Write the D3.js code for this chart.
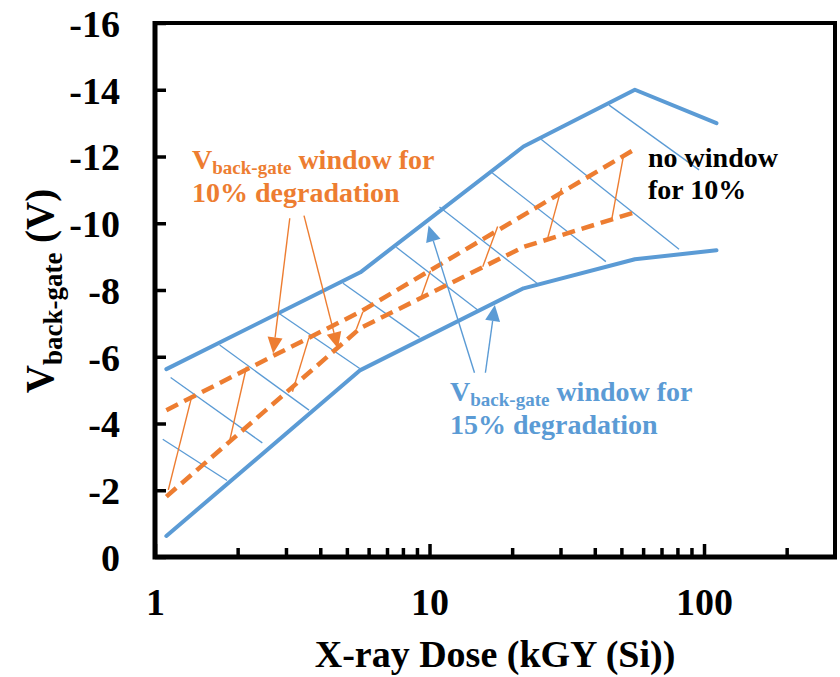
<!DOCTYPE html>
<html>
<head>
<meta charset="utf-8">
<script src="https://cdn.jsdelivr.net/npm/d3@7/dist/d3.min.js"></script>
</head>
<body style="margin:0">
<svg id="chart" width="840" height="677"></svg>
<script>
// Axis ticks
const doseMajorTicks = [1, 10, 100];
const doseMinorTicks = [2, 3, 4, 5, 6, 7, 8, 9, 20, 30, 40, 50, 60, 70, 80, 90, 200];
const voltTicks = [0, -2, -4, -6, -8, -10, -12, -14, -16];

// 15% degradation window (blue boundaries)
const blueUpperDose = [1.1, 5.6, 22, 56, 111];
const blueUpperV    = [-5.63, -8.53, -12.3, -14.0, -13.0];
const blueLowerDose = [1.1, 5.6, 22, 56, 111];
const blueLowerV    = [-0.63, -5.6, -8.05, -8.92, -9.19];

// 10% degradation window (orange dashed boundaries)
const orangeUpperDose = [1.1, 5.6, 56];
const orangeUpperV    = [-4.4, -7.35, -12.22];
const orangeLowerDose = [1.1, 5.6, 22, 56];
const orangeLowerV    = [-1.81, -6.86, -9.29, -10.33];

// Hatch lines filling the blue window: [dose1, V1, dose2, V2]
const blueHatch = [
  [1.067, -3.53, 1.83, -2.29],
  [1.14, -5.38, 2.46, -3.42],
  [1.72, -6.35, 3.64, -4.40],
  [2.85, -7.28, 5.57, -5.65],
  [4.84, -8.20, 9.20, -6.58],
  [7.57, -9.28, 14.98, -7.40],
  [10.87, -10.49, 24.76, -8.19],
  [16.9, -11.51, 43.9, -8.85],
  [25.5, -12.52, 81.1, -9.22],
  [45.1, -13.54, 95.9, -11.60]
];

// Connectors inside the orange window: [dose1, V1, dose2, V2]
const orangeHatch = [
  [1.118, -2.01, 1.36, -4.80],
  [1.863, -3.42, 2.155, -5.70],
  [3.168, -4.95, 3.64, -6.58],
  [5.41, -6.82, 5.72, -7.35],
  [9.33, -7.80, 10.08, -8.58],
  [15.63, -8.70, 17.71, -9.90],
  [26.9, -9.53, 30.25, -11.06],
  [46.2, -10.15, 50.8, -11.99]
];

// Callout arrows: [dose from, V from, dose tip, V tip]
const orangeArrows = [
  [3.097, -10.15, 2.693, -6.10],
  [3.49, -10.23, 4.64, -6.25]
];
const blueArrows = [
  [14.58, -5.52, 9.92, -9.93],
  [15.98, -5.52, 17.3, -7.55]
];

const BLUE = "#5B9BD5";
const ORANGE = "#ED7D31";

const svg = d3.select("#chart");
const plotL = 155, plotR = 835, plotT = 23, plotB = 557;

const x = d3.scaleLog().domain([1, 300]).range([plotL, plotR]);
const y = d3.scaleLinear().domain([0, -16]).range([plotB, plotT]);

const line = d3.line().x(d => x(d[0])).y(d => y(d[1]));
const zip = (a, b) => a.map((v, i) => [v, b[i]]);

// Bold serif label helper
function serif(sel, size) {
  return sel.style("font-family", '"Liberation Serif"').style("font-weight", "bold")
    .style("font-size", size + "px");
}

// Blue hatch
svg.append("g").selectAll("line").data(blueHatch).join("line")
  .attr("x1", d => x(d[0])).attr("y1", d => y(d[1]))
  .attr("x2", d => x(d[2])).attr("y2", d => y(d[3]))
  .attr("stroke", BLUE).attr("stroke-width", 1.3);

// Orange connectors
svg.append("g").selectAll("line").data(orangeHatch).join("line")
  .attr("x1", d => x(d[0])).attr("y1", d => y(d[1]))
  .attr("x2", d => x(d[2])).attr("y2", d => y(d[3]))
  .attr("stroke", ORANGE).attr("stroke-width", 1.4);

// Blue window boundaries
[[blueUpperDose, blueUpperV], [blueLowerDose, blueLowerV]].forEach(([xs, vs]) => {
  svg.append("path").datum(zip(xs, vs)).attr("d", line)
    .attr("fill", "none").attr("stroke", BLUE).attr("stroke-width", 4)
    .attr("stroke-linejoin", "round").attr("stroke-linecap", "round");
});

// Orange dashed window boundaries
[[orangeUpperDose, orangeUpperV], [orangeLowerDose, orangeLowerV]].forEach(([xs, vs]) => {
  svg.append("path").datum(zip(xs, vs)).attr("d", line)
    .attr("fill", "none").attr("stroke", ORANGE).attr("stroke-width", 4.5)
    .attr("stroke-dasharray", "13,7").attr("stroke-linejoin", "round");
});

// Arrows with triangular heads
function drawArrows(data, color) {
  const g = svg.append("g");
  data.forEach(d => {
    const x1 = x(d[0]), y1 = y(d[1]), x2 = x(d[2]), y2 = y(d[3]);
    const ang = Math.atan2(y2 - y1, x2 - x1);
    const len = 16, half = 7.5;
    const bx = x2 - len * Math.cos(ang), by = y2 - len * Math.sin(ang);
    g.append("line").attr("x1", x1).attr("y1", y1).attr("x2", bx).attr("y2", by)
      .attr("stroke", color).attr("stroke-width", 1.4);
    const px = -Math.sin(ang) * half, py = Math.cos(ang) * half;
    g.append("path")
      .attr("d", `M${x2},${y2}L${bx + px},${by + py}L${bx - px},${by - py}Z`)
      .attr("fill", color);
  });
}
drawArrows(orangeArrows, ORANGE);
drawArrows(blueArrows, BLUE);

// Axes with inward ticks
const xMajor = svg.append("g").attr("transform", `translate(0,${plotB})`)
  .call(d3.axisBottom(x).tickValues(doseMajorTicks).tickSize(-13).tickFormat(d3.format("d")).tickPadding(0));
const xMinor = svg.append("g").attr("transform", `translate(0,${plotB})`)
  .call(d3.axisBottom(x).tickValues(doseMinorTicks).tickSize(-9).tickFormat(""));
const yAxis = svg.append("g").attr("transform", `translate(${plotL},0)`)
  .call(d3.axisLeft(y).tickValues(voltTicks).tickSize(-11).tickPadding(35).tickFormat(d => String(d)));

[xMajor, xMinor, yAxis].forEach(g => {
  g.attr("font-family", null).attr("font-size", null);
  g.select(".domain").remove();
  g.selectAll(".tick line").attr("stroke", "#000").attr("stroke-width", 3.5);
  serif(g.selectAll(".tick text"), 38).attr("fill", "#000");
});
xMajor.selectAll(".tick text").attr("y", 58).attr("dy", 0);
yAxis.selectAll(".tick text").attr("dy", "0.35em");

// Plot frame
svg.append("path")
  .attr("d", `M${plotL},${plotT}H${plotR}V${plotB}`)
  .attr("fill", "none").attr("stroke", "#000").attr("stroke-width", 4);
svg.append("path")
  .attr("d", `M${plotL},${plotT - 2}V${plotB}H${plotR + 2}`)
  .attr("fill", "none").attr("stroke", "#000").attr("stroke-width", 5);

// Axis titles
serif(svg.append("text"), 38).attr("x", 495).attr("y", 667)
  .attr("text-anchor", "middle").attr("fill", "#000")
  .text("X-ray Dose (kGY (Si))");

const yTitle = serif(svg.append("text"), 39)
  .attr("transform", "translate(53,291) rotate(-90)")
  .attr("text-anchor", "middle").attr("fill", "#000");
yTitle.append("tspan").text("V");
yTitle.append("tspan").style("font-size", "27px").attr("dy", 8.5).text("back-gate");
yTitle.append("tspan").attr("dy", -8.5).text(" (V)");

// Annotations
function annotate(px, py, color, sub, rest, line2) {
  const t = serif(svg.append("text"), 28).attr("x", px).attr("y", py).attr("fill", color);
  t.append("tspan").text("V");
  t.append("tspan").style("font-size", "19px").attr("dy", 5).text(sub);
  t.append("tspan").attr("dy", -5).text(rest);
  serif(svg.append("text"), 28).attr("x", px).attr("y", py + 33)
    .attr("fill", color).text(line2);
}
annotate(192, 169, ORANGE, "back-gate", " window for", "10% degradation");
annotate(450, 401, BLUE, "back-gate", " window for", "15% degradation");

serif(svg.append("text"), 28).attr("x", 648).attr("y", 167).attr("fill", "#000").text("no window");
serif(svg.append("text"), 28).attr("x", 648).attr("y", 199).attr("fill", "#000").text("for 10%");
</script>
</body>
</html>
